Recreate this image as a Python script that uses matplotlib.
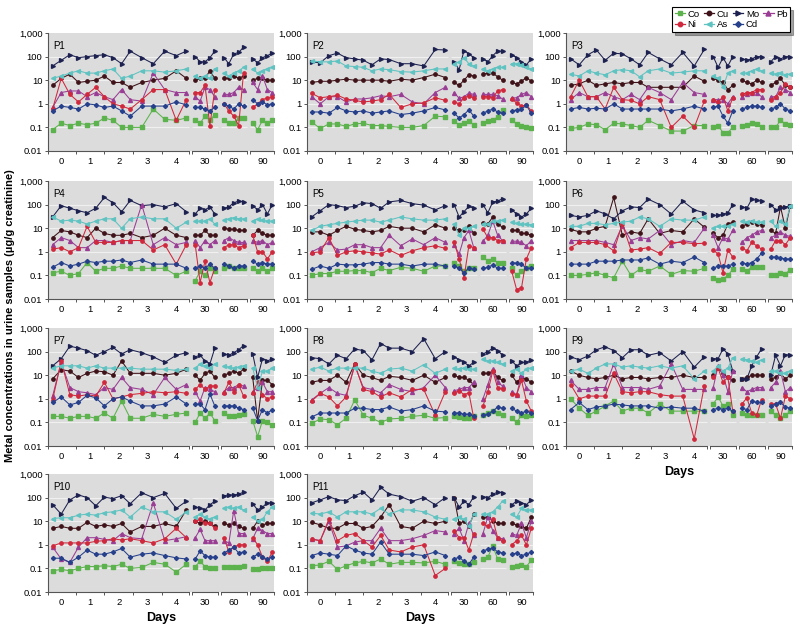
import numpy as np
import matplotlib.pyplot as plt
import matplotlib.transforms as mtransforms

plt.rcParams['font.family'] = ['Liberation Sans Narrow', 'Liberation Sans', 'DejaVu Sans']

#%%
# Sample times: 15 samples over the first days, 5 samples at each follow-up visit

main_days = [-0.3, 0.0, 0.3, 0.6, 0.9, 1.2, 1.5, 1.8, 2.1, 2.4, 2.8, 3.2, 3.6, 4.0, 4.35]
visit_days = [0, 1, 2, 3, 4]
followups = [30, 60, 90]
main_ticks = [0, 1, 2, 3, 4]

metals = ['Co', 'Cu', 'Mo', 'Pb', 'Ni', 'As', 'Cd']

# values: 15 main samples, then 5 each for day 30, 60, 90 (ug/g creatinine)
p1_co = [0.08, 0.15, 0.12, 0.15, 0.13, 0.15, 0.25, 0.2, 0.1, 0.1, 0.1, 0.6, 0.22, 0.2, 0.25, 0.2, 0.15, 0.3, 0.2, 0.35, 0.2, 0.15, 0.15, 0.25, 0.25, 0.15, 0.08, 0.2, 0.15, 0.2]
p1_cu = [6, 12, 18, 8, 9, 10, 15, 8, 8, 5, 8, 10, 12, 25, 12, 10, 12, 12, 25, 12, 12, 12, 15, 12, 15, 10, 12, 12, 10, 10]
p1_mo = [40, 70, 120, 90, 100, 110, 120, 90, 50, 170, 90, 50, 170, 110, 170, 100, 60, 60, 90, 170, 90, 50, 130, 150, 250, 80, 55, 90, 110, 140]
p1_pb = [0.7, 3, 3.5, 3.5, 2, 3, 2, 1.5, 4, 1.5, 1.3, 20, 4, 3, 3, 2, 1.3, 5, 4, 2, 2.5, 2.5, 3, 5, 4, 8, 4, 15, 4, 3]
p1_ni = [0.6, 12, 2.5, 1.2, 2.5, 5, 2, 1, 0.8, 0.6, 1.5, 4, 4, 0.2, 1.5, 3, 3, 6, 0.12, 4, 1, 0.5, 0.3, 0.12, 20, 0.7, 1, 1.5, 1.8, 2]
p1_as = [12, 15, 20, 25, 20, 20, 25, 30, 12, 15, 25, 25, 22, 25, 30, 15, 12, 15, 12, 30, 20, 15, 20, 25, 35, 30, 20, 25, 30, 35]
p1_cd = [0.5, 0.8, 0.7, 0.6, 1, 0.9, 0.7, 0.8, 0.5, 0.3, 0.8, 0.8, 0.8, 1.2, 0.9, 0.7, 0.7, 0.6, 0.5, 0.7, 1, 0.8, 0.6, 1, 0.8, 1.5, 1, 1.2, 0.9, 1]

p2_co = [0.17, 0.09, 0.14, 0.14, 0.11, 0.14, 0.15, 0.12, 0.12, 0.11, 0.1, 0.1, 0.12, 0.3, 0.28, 0.18, 0.13, 0.16, 0.18, 0.13, 0.15, 0.18, 0.2, 0.28, 0.55, 0.2, 0.14, 0.12, 0.1, 0.09]
p2_cu = [8, 9, 9, 10, 11, 10, 10, 10, 10, 9, 11, 10, 13, 18, 13, 8, 6, 10, 17, 15, 18, 20, 20, 14, 10, 8, 7, 9, 13, 9]
p2_mo = [60, 55, 110, 140, 90, 80, 70, 45, 80, 75, 50, 50, 40, 200, 190, 60, 28, 180, 130, 90, 80, 60, 110, 170, 170, 120, 90, 60, 45, 80]
p2_pb = [2, 1, 2, 2, 1.2, 1.6, 1.6, 1.8, 2.2, 2, 2.5, 1.2, 1, 3, 5, 3, 1.7, 2, 2.8, 2.5, 2.5, 2.5, 2.5, 2.2, 1.6, 1.8, 1.8, 2.5, 3, 2]
p2_ni = [2.8, 1.8, 2, 2.3, 1.6, 1.4, 1.2, 1.3, 1.5, 2.5, 0.7, 1, 1.1, 1.8, 1.4, 1.2, 1, 1.8, 2.2, 1.7, 2, 2, 1.8, 3.5, 4, 1.6, 1.1, 0.8, 0.9, 0.5]
p2_as = [65, 60, 60, 65, 40, 38, 35, 25, 30, 28, 23, 22, 25, 30, 30, 50, 60, 90, 50, 40, 30, 25, 30, 35, 35, 50, 50, 45, 35, 30]
p2_cd = [0.45, 0.45, 0.4, 0.7, 0.5, 0.45, 0.5, 0.4, 0.45, 0.5, 0.35, 0.4, 0.5, 0.7, 0.55, 0.4, 0.25, 0.35, 0.55, 0.3, 0.4, 0.5, 0.6, 0.45, 0.4, 0.5, 0.55, 0.6, 0.85, 0.4]

p3_co = [0.09, 0.1, 0.14, 0.13, 0.08, 0.15, 0.14, 0.12, 0.1, 0.2, 0.12, 0.07, 0.07, 0.12, 0.12, 0.1, 0.12, 0.06, 0.06, 0.1, 0.12, 0.13, 0.16, 0.14, 0.1, 0.1, 0.1, 0.2, 0.14, 0.13]
p3_cu = [6, 7, 10, 6, 7, 8, 7, 8, 8, 5, 5, 5, 5, 15, 9, 12, 10, 8, 4, 6, 10, 8, 7, 10, 8, 6, 8, 12, 6, 5]
p3_mo = [80, 45, 120, 190, 70, 140, 130, 80, 45, 150, 80, 45, 150, 40, 200, 100, 35, 90, 40, 100, 80, 70, 80, 100, 100, 60, 100, 80, 100, 100]
p3_pb = [1.5, 3, 2, 2, 3, 2, 1.5, 2.5, 1.5, 5, 3, 1.5, 8, 3, 2.5, 1.5, 1.5, 1.5, 1, 2, 2, 2.5, 3, 3, 2, 2, 2, 5, 4, 3]
p3_ni = [2, 10, 2, 2, 0.6, 5, 1.5, 1.4, 1, 2, 1.5, 0.1, 0.3, 0.1, 1.3, 1.5, 1.2, 2, 0.5, 1.8, 2.5, 3, 3, 4, 4, 1.5, 2, 3, 7, 5]
p3_as = [18, 15, 25, 20, 17, 25, 28, 25, 14, 25, 30, 20, 22, 25, 25, 15, 12, 5, 20, 25, 20, 20, 25, 30, 25, 20, 18, 20, 17, 18]
p3_cd = [0.6, 0.7, 0.6, 0.65, 0.6, 1, 0.6, 0.6, 0.6, 0.6, 0.6, 0.5, 0.6, 0.8, 0.6, 0.7, 0.8, 0.3, 0.15, 0.5, 0.6, 0.7, 0.8, 0.8, 0.7, 0.6, 0.7, 1, 0.6, 0.5]

p4_co = [0.13, 0.15, 0.1, 0.12, 0.35, 0.15, 0.2, 0.2, 0.25, 0.2, 0.2, 0.2, 0.2, 0.1, 0.15, 0.06, 0.15, 0.1, 0.2, 0.15, 0.2, 0.25, 0.2, 0.2, 0.2, 0.2, 0.15, 0.2, 0.15, 0.2]
p4_cu = [4, 8, 7, 5, 4, 10, 6, 5, 5, 6, 4, 5, 10, 5, 4, 5, 5, 8, 5, 5, 10, 9, 9, 8, 8, 5, 8, 6, 5, 5]
p4_mo = [30, 90, 70, 55, 45, 70, 200, 120, 50, 150, 90, 100, 80, 110, 50, 40, 70, 60, 80, 40, 70, 80, 120, 140, 130, 90, 60, 100, 40, 100]
p4_pb = [2, 4, 3, 1.5, 1.5, 3, 3, 2.5, 3, 3, 100, 2, 4, 2, 2.5, 3, 1.5, 3, 2, 3, 3, 4, 3, 2.5, 2.5, 3, 2.5, 3, 2, 2.5]
p4_ni = [1.3, 1.5, 1, 1.5, 12, 2.5, 2.5, 2.5, 3, 3, 3, 1.2, 2, 0.3, 2, 2, 0.05, 0.4, 0.05, 0.2, 1.5, 2, 2, 1.5, 1.8, 5, 1, 1, 0.5, 1]
p4_as = [30, 20, 22, 20, 15, 20, 25, 25, 10, 25, 30, 25, 25, 10, 18, 20, 20, 20, 25, 15, 22, 25, 28, 25, 25, 20, 25, 22, 20, 20]
p4_cd = [0.22, 0.35, 0.25, 0.3, 0.4, 0.35, 0.4, 0.4, 0.45, 0.35, 0.45, 0.3, 0.3, 0.3, 0.2, 0.2, 0.25, 0.2, 0.3, 0.2, 0.3, 0.25, 0.2, 0.25, 0.25, 0.4, 0.3, 0.35, 0.3, 0.3]

p5_co = [0.1, 0.12, 0.12, 0.15, 0.15, 0.16, 0.16, 0.13, 0.2, 0.16, 0.22, 0.2, 0.15, 0.25, 0.25, 0.35, 0.25, 0.15, 0.2, 0.2, 0.6, 0.4, 0.5, 0.35, 0.35, 0.2, 0.1, 0.15, 0.2, 0.25]
p5_cu = [7, 7, 5, 8, 12, 9, 8, 7, 8, 12, 10, 10, 7, 14, 10, 10, 8, 8, 12, 6, 16, 15, 30, 15, 11, 8, 8, 6, 6, 5]
p5_mo = [30, 55, 100, 90, 75, 85, 120, 110, 70, 130, 150, 110, 95, 60, 90, 100, 30, 50, 85, 70, 100, 45, 130, 140, 180, 60, 40, 30, 40, 70]
p5_pb = [1, 1.5, 2.5, 1.2, 1.3, 2, 2, 1.5, 1.5, 5, 1.8, 3.5, 2, 4, 2.5, 2, 0.8, 4, 8, 1.5, 2.8, 5, 20, 5, 3, 2.8, 2.8, 2.5, 1.8, 3]
p5_ni = [0.9, 1, 4, 0.7, 1, 1.1, 1, 0.9, 0.8, 1.2, 0.7, 1.1, 1.5, 1.8, 1.4, 2.5, 0.5, 0.08, 1.8, 1.5, 9, 4, 4, 3, 3, 0.15, 0.025, 0.03, 0.5, 1.5]
p5_as = [8, 12, 14, 16, 18, 20, 22, 22, 18, 22, 30, 25, 22, 22, 25, 15, 5, 10, 10, 12, 15, 15, 20, 20, 22, 18, 16, 15, 15, 14]
p5_cd = [0.18, 0.25, 0.2, 0.3, 0.28, 0.28, 0.3, 0.35, 0.35, 0.3, 0.3, 0.25, 0.3, 0.3, 0.25, 0.25, 0.2, 0.13, 0.2, 0.18, 0.2, 0.22, 0.28, 0.2, 0.2, 0.35, 0.33, 0.3, 0.2, 0.2]

p6_co = [0.1, 0.1, 0.11, 0.13, 0.1, 0.08, 0.4, 0.1, 0.18, 0.15, 0.25, 0.11, 0.16, 0.15, 0.2, 0.08, 0.065, 0.07, 0.1, 0.18, 0.18, 0.16, 0.22, 0.22, 0.23, 0.1, 0.1, 0.13, 0.12, 0.17]
p6_cu = [9, 7, 7, 10, 12, 200, 5, 7, 6, 25, 6, 8, 7, 25, 11, 6, 4, 5, 15, 18, 12, 15, 18, 15, 14, 8, 6, 80, 10, 90]
p6_mo = [35, 30, 35, 55, 40, 25, 55, 80, 75, 170, 100, 40, 140, 60, 45, 35, 35, 40, 45, 100, 80, 70, 170, 150, 140, 100, 60, 70, 80, 90]
p6_pb = [3, 3, 3, 3, 2.5, 2, 13, 3, 4, 3.5, 8, 2, 3, 2.5, 10, 5, 1.5, 4, 3.5, 8, 2.5, 4, 5, 7, 8, 4, 5, 7, 5, 4.5]
p6_ni = [1.5, 2.5, 2.5, 2.5, 2, 1.1, 15, 1.2, 1.3, 1.5, 0.85, 2.5, 2.5, 2.2, 2.3, 1.2, 0.8, 0.13, 1.2, 0.6, 1.5, 1.1, 2.5, 1.8, 1.3, 1.3, 3, 3, 2, 4]
p6_as = [12, 12, 16, 16, 14, 16, 18, 20, 30, 25, 12, 25, 22, 22, 30, 10, 12, 12, 12, 15, 20, 18, 20, 18, 18, 20, 12, 20, 15, 90]
p6_cd = [0.3, 0.3, 0.3, 0.4, 0.4, 0.4, 0.45, 0.45, 0.45, 0.55, 0.3, 0.4, 0.35, 0.6, 0.35, 0.2, 0.25, 0.25, 0.25, 0.3, 0.35, 0.3, 0.35, 0.5, 0.85, 0.6, 0.6, 0.55, 0.5, 0.5]

p7_co = [0.18, 0.18, 0.15, 0.18, 0.18, 0.15, 0.25, 0.15, 0.8, 0.15, 0.15, 0.22, 0.18, 0.22, 0.25, 0.1, 0.25, 0.15, 0.25, 0.12, 0.25, 0.18, 0.18, 0.2, 0.22, 0.12, 0.025, 0.12, 0.1, 0.08]
p7_cu = [7, 17, 15, 8, 12, 15, 14, 10, 40, 12, 12, 12, 10, 12, 18, 10, 6, 12, 15, 8, 10, 12, 15, 12, 18, 8, 0.12, 6, 6, 4]
p7_mo = [25, 50, 170, 140, 110, 70, 100, 150, 80, 120, 90, 60, 35, 70, 90, 60, 70, 40, 30, 140, 80, 70, 90, 120, 180, 80, 8, 50, 40, 50]
p7_pb = [1.3, 35, 3, 2, 1.8, 1.5, 3, 2.5, 8, 3, 2.5, 1.5, 8, 2.5, 4, 2, 0.8, 3, 2.5, 2, 2, 3, 3, 4, 3.5, 2, 3, 5, 2, 2]
p7_ni = [0.9, 40, 1.5, 1.3, 1.5, 1.3, 5, 1, 1.2, 1.5, 1.7, 2, 1.8, 2, 1.7, 2.5, 4, 2.5, 3.5, 3.5, 1.8, 5, 2, 4, 1.3, 1.8, 5, 1.5, 1, 1.2]
p7_as = [20, 25, 25, 25, 20, 25, 20, 20, 20, 20, 18, 18, 18, 16, 18, 20, 30, 25, 20, 30, 25, 22, 20, 22, 25, 20, 3, 15, 15, 20]
p7_cd = [0.7, 1.2, 0.55, 0.7, 1.4, 1.1, 0.5, 1, 1.2, 0.8, 0.5, 0.5, 0.6, 1.2, 0.6, 0.6, 0.6, 0.35, 1.6, 0.5, 0.5, 0.5, 0.5, 0.4, 0.35, 0.4, 0.12, 0.35, 0.25, 0.35]

p8_co = [0.09, 0.14, 0.13, 0.08, 0.15, 0.9, 0.2, 0.15, 0.1, 0.14, 0.15, 0.18, 0.2, 0.15, 0.16, 0.18, 0.17, 0.15, 0.15, 0.18, 0.2, 0.25, 0.3, 0.25, 0.2, 0.15, 0.1, 0.2, 0.18, 0.2]
p8_cu = [5, 6, 6, 10, 5, 30, 10, 8, 6, 9, 8, 6, 10, 5, 8, 10, 8, 8, 6, 4, 12, 12, 15, 8, 6, 10, 5, 8, 7, 5]
p8_mo = [55, 50, 30, 70, 50, 130, 110, 45, 220, 140, 140, 100, 350, 50, 100, 60, 45, 35, 25, 35, 80, 100, 140, 110, 70, 40, 25, 35, 35, 45]
p8_pb = [0.9, 1.7, 3, 1.7, 1.4, 25, 3, 2.5, 1.8, 4, 2.5, 2, 3, 10, 3, 2.2, 2.5, 3, 3, 5, 1, 4, 18, 5, 3.5, 2, 1.5, 10, 3, 2]
p8_ni = [0.8, 1.7, 1.2, 0.5, 1.2, 30, 2.5, 2, 1.2, 1.8, 1.2, 2.5, 2.5, 0.2, 2, 1.8, 2.2, 1.5, 1.8, 0.15, 0.5, 2, 15, 3, 2.5, 1.6, 1.5, 6, 0.8, 0.3]
p8_as = [18, 22, 15, 20, 20, 20, 20, 15, 12, 18, 20, 15, 28, 12, 18, 20, 18, 20, 18, 18, 50, 40, 40, 35, 30, 15, 18, 12, 18, 20]
p8_cd = [0.17, 0.25, 0.25, 0.25, 0.25, 0.4, 0.4, 0.35, 0.35, 0.45, 0.3, 0.35, 0.5, 0.3, 0.28, 0.25, 0.25, 0.22, 0.22, 0.18, 0.2, 0.22, 0.3, 0.45, 0.4, 0.4, 0.3, 0.25, 0.3, 0.25]

p9_co = [1, 0.4, 0.2, 0.3, 0.5, 0.8, 0.3, 0.4, 0.4, 0.25, 0.6, 0.3, 0.3, 0.3, 0.3, 0.6, 1.2, 0.5, 0.6, 0.2, 0.25, 0.2, 0.2, 0.2, 0.2, 0.3, 0.2, 0.15, 0.2, 0.3]
p9_cu = [15, 10, 8, 7, 8, 10, 7, 8, 8, 7, 8, 8, 10, 8, 8, 10, 20, 12, 8, 6, 7, 8, 10, 10, 10, 7, 8, 12, 7, 10]
p9_mo = [60, 45, 65, 120, 160, 110, 55, 120, 120, 70, 90, 40, 100, 22, 60, 50, 50, 130, 80, 15, 7, 7, 25, 60, 130, 10, 70, 25, 75, 70]
p9_pb = [6, 2.5, 2.5, 3, 3, 30, 3, 3, 3, 2.5, 3.5, 30, 2.5, 2.5, 2.5, 3, 25, 10, 2, 15, 3, 2, 2.5, 3, 3, 3, 5, 15, 2, 3]
p9_ni = [4, 1, 1.3, 1.3, 1.3, 12, 2, 1.8, 2, 2, 1.5, 1.3, 1.3, 0.02, 3.5, 8, 20, 5, 8, 0.3, 0.6, 1.1, 0.25, 0.2, 0.9, 0.6, 0.6, 0.15, 1.3, 1]
p9_as = [15, 18, 12, 20, 30, 30, 22, 25, 22, 20, 25, 20, 25, 7, 15, 15, 25, 15, 20, 55, 50, 45, 40, 35, 45, 15, 15, 12, 12, 15]
p9_cd = [0.35, 0.7, 0.35, 0.45, 0.5, 0.6, 0.55, 0.5, 0.5, 0.5, 0.4, 0.45, 0.4, 0.4, 0.3, 0.35, 0.4, 0.35, 0.4, 0.3, 0.4, 0.35, 0.8, 0.7, 0.7, 0.5, 0.6, 0.7, 0.45, 0.4]

p10_co = [0.08, 0.09, 0.08, 0.1, 0.12, 0.12, 0.13, 0.12, 0.15, 0.1, 0.11, 0.18, 0.15, 0.07, 0.15, 0.12, 0.2, 0.12, 0.1, 0.1, 0.11, 0.12, 0.12, 0.11, 0.13, 0.09, 0.09, 0.1, 0.1, 0.1]
p10_cu = [5, 6, 5, 5, 9, 6, 7, 6, 8, 3.5, 6, 6, 8, 6, 30, 10, 8, 10, 8, 6, 8, 7, 8, 6, 5, 5, 10, 7, 8, 8]
p10_mo = [50, 20, 80, 130, 100, 45, 105, 90, 120, 55, 160, 100, 150, 35, 70, 40, 35, 30, 50, 70, 120, 130, 130, 140, 170, 55, 30, 40, 60, 60]
p10_pb = [0.8, 0.25, 0.18, 0.8, 2, 2, 1.7, 1.5, 3, 2, 1.8, 60, 1.5, 1.8, 2.2, 2, 4.5, 1.5, 1.5, 1.5, 1.5, 1.2, 28, 3, 3, 1.8, 5, 4, 3, 3]
p10_ni = [0.9, 1.2, 1.2, 1.2, 1.2, 1.4, 1.5, 1.8, 1.6, 1.8, 1.5, 1.2, 1.8, 5, 2, 10, 12, 8, 8, 5, 2, 0.5, 0.8, 1, 1, 2, 1, 0.3, 0.2, 0.5]
p10_as = [13, 14, 14, 18, 20, 18, 23, 25, 30, 15, 40, 25, 25, 12, 25, 15, 20, 15, 12, 15, 35, 40, 35, 40, 30, 15, 10, 12, 25, 40]
p10_cd = [0.27, 0.27, 0.18, 0.3, 0.6, 0.4, 0.4, 0.5, 0.7, 0.3, 0.4, 0.45, 0.35, 0.28, 0.25, 0.25, 0.55, 0.35, 0.3, 0.3, 0.45, 0.6, 0.8, 0.45, 0.5, 0.3, 0.4, 0.3, 0.25, 0.3]

p11_co = [0.13, 0.14, 0.2, 0.09, 0.13, 0.17, 0.2, 0.17, 0.25, 0.15, 0.18, 0.18, 0.17, 0.2, 0.15, 0.2, 0.17, 0.15, 0.15, 0.18, 0.25, 0.3, 0.9, 0.25, 0.22, 0.12, 0.13, 0.14, 0.12, 0.22]
p11_cu = [9, 7, 5, 5, 8, 8, 5, 6, 15, 50, 6, 5, 10, 8, 10, 100, 8, 10, 6, 20, 15, 15, 10, 8, 8, 8, 7, 6, 5, 15]
p11_mo = [60, 80, 110, 80, 75, 120, 170, 80, 270, 140, 110, 70, 100, 50, 100, 100, 40, 70, 50, 110, 110, 100, 140, 170, 160, 50, 70, 60, 50, 80]
p11_pb = [1.8, 1.5, 10, 0.8, 0.9, 1.3, 1.5, 1.5, 5, 1.5, 1.5, 1.8, 2.5, 4, 3.5, 3, 5, 1.5, 8, 2.5, 3, 15, 4, 2, 1.8, 3, 2.5, 8, 2, 10]
p11_ni = [1.7, 1.5, 12, 1.5, 2.5, 3, 1.5, 0.8, 2.5, 0.6, 0.5, 0.8, 1, 0.05, 0.1, 4, 2, 2, 0.6, 3, 8, 6, 12, 2, 1.5, 1, 1.5, 2.5, 1, 5]
p11_as = [22, 20, 25, 15, 25, 25, 25, 20, 35, 20, 30, 30, 25, 15, 12, 12, 15, 12, 6, 20, 20, 20, 25, 40, 70, 20, 15, 35, 30, 30]
p11_cd = [0.35, 0.45, 0.4, 0.35, 0.9, 0.6, 0.45, 0.4, 1.3, 0.4, 0.4, 0.4, 0.35, 0.5, 0.35, 0.25, 0.3, 0.2, 0.15, 0.3, 0.55, 0.65, 0.75, 0.5, 0.45, 0.4, 0.45, 0.35, 0.4, 0.5]

panels = [
    ("P1", [p1_co, p1_cu, p1_mo, p1_pb, p1_ni, p1_as, p1_cd]),
    ("P2", [p2_co, p2_cu, p2_mo, p2_pb, p2_ni, p2_as, p2_cd]),
    ("P3", [p3_co, p3_cu, p3_mo, p3_pb, p3_ni, p3_as, p3_cd]),
    ("P4", [p4_co, p4_cu, p4_mo, p4_pb, p4_ni, p4_as, p4_cd]),
    ("P5", [p5_co, p5_cu, p5_mo, p5_pb, p5_ni, p5_as, p5_cd]),
    ("P6", [p6_co, p6_cu, p6_mo, p6_pb, p6_ni, p6_as, p6_cd]),
    ("P7", [p7_co, p7_cu, p7_mo, p7_pb, p7_ni, p7_as, p7_cd]),
    ("P8", [p8_co, p8_cu, p8_mo, p8_pb, p8_ni, p8_as, p8_cd]),
    ("P9", [p9_co, p9_cu, p9_mo, p9_pb, p9_ni, p9_as, p9_cd]),
    ("P10", [p10_co, p10_cu, p10_mo, p10_pb, p10_ni, p10_as, p10_cd]),
    ("P11", [p11_co, p11_cu, p11_mo, p11_pb, p11_ni, p11_as, p11_cd]),
]

#%%
# Styles

colors = {'Co': '#5cb24c', 'Cu': '#3e1218', 'Mo': '#1d2150', 'Pb': '#9a3d94',
          'Ni': '#d0283c', 'As': '#5ec3c1', 'Cd': '#26408c'}
markers = {'Co': 's', 'Cu': 'o', 'Mo': '>', 'Pb': '^', 'Ni': 'o', 'As': '<', 'Cd': 'D'}
msizes = {'Co': 2.2, 'Cu': 2.4, 'Mo': 2.8, 'Pb': 2.8, 'Ni': 2.4, 'As': 2.8, 'Cd': 2.1}

# broken x axis: main days on [-0.46, 4.45], follow-up visits centred at 5, 6, 7
segments = [(-0.46, 4.45), (4.55, 5.45), (5.55, 6.45), (6.55, 7.4)]
visit_centres = [5, 6, 7]
visit_scale = 0.17

def visit_x(centre, days):
    return [centre + (d - 2) * visit_scale for d in days]

col_left = [48, 307, 566]
row_top = [33, 181, 328, 474]
ax_w, ax_h = 226, 118
W, H = 800, 631

fig = plt.figure(figsize=(8.0, 6.31), dpi=100)

for i, (name, series) in enumerate(panels):
    row, col = divmod(i, 3)
    ax = fig.add_axes([col_left[col] / W, 1 - (row_top[row] + ax_h) / H, ax_w / W, ax_h / H])
    ax.set_facecolor('#dcdcdc')
    ax.set_yscale('log')
    ax.set_ylim(0.01, 1000)
    ax.set_xlim(segments[0][0], segments[-1][1])

    # grid lines broken at the segment gaps
    for x0, x1 in segments:
        ax.hlines([0.1, 1, 10, 100], x0, x1, colors='#f0f0f0', lw=0.8, zorder=1)

    n = len(main_days)
    for metal, vals in zip(metals, series):
        kw = dict(color=colors[metal], marker=markers[metal], ms=msizes[metal], lw=0.75,
                  mec=colors[metal], zorder=3)
        ax.plot(main_days, vals[:n], **kw)
        for k, c in enumerate(visit_centres):
            seg = vals[n + k * len(visit_days): n + (k + 1) * len(visit_days)]
            ax.plot(visit_x(c, visit_days), seg, **kw)

    # spines and ticks
    for s in ['top', 'right', 'bottom']:
        ax.spines[s].set_visible(False)
    ax.spines['left'].set_color('#555555')
    ax.spines['left'].set_linewidth(0.8)
    trans = mtransforms.blended_transform_factory(ax.transData, ax.transAxes)
    for x0, x1 in segments:
        ax.plot([x0, x1], [0, 0], color='#555555', lw=0.8, transform=trans, clip_on=False)

    ax.set_yticks([0.01, 0.1, 1, 10, 100, 1000])
    ax.set_yticklabels(['0.01', '0.1', '1', '10', '100', '1,000'])
    ax.yaxis.set_minor_locator(plt.NullLocator())
    ax.tick_params(axis='y', labelsize=6.8, length=2.5, width=0.7, color='#555555', pad=1.5)

    ax.set_xticks(main_ticks + visit_centres)
    ax.set_xticklabels([str(d) for d in main_ticks] + [str(f) for f in followups])
    boundaries = [b for seg in segments for b in seg] + [0.5, 1.5, 2.5, 3.5]
    ax.set_xticks(boundaries, minor=True)
    ax.tick_params(axis='x', which='major', length=0, labelsize=6.8, pad=4)
    ax.tick_params(axis='x', which='minor', length=2.5, width=0.7, color='#555555')

    ax.text(0.025, 0.93, name, transform=ax.transAxes, fontsize=7, va='top', ha='left')

    if name in ("P9", "P10", "P11"):
        ax.set_xlabel('Days', fontsize=9, fontweight='bold', labelpad=4)

fig.text(0.012, 0.5, 'Metal concentrations in urine samples (µg/g creatinine)',
         rotation=90, va='center', ha='center', fontsize=8, fontweight='bold')

# legend: column-major fill, so order gives rows Co Cu Mo Pb / Ni As Cd
order = ['Co', 'Ni', 'Cu', 'As', 'Mo', 'Cd', 'Pb']
handles = [plt.Line2D([], [], color=colors[m], marker=markers[m], ms=msizes[m] + 0.8, lw=0.9) for m in order]
leg = fig.legend(handles, order, loc='upper right', bbox_to_anchor=(795 / W, 1 - 2 / H), ncol=4,
                 fontsize=6.8, frameon=True, fancybox=False, shadow=True, handlelength=1.1,
                 handletextpad=0.25, columnspacing=0.45, borderpad=0.3, labelspacing=0.15)
leg.get_frame().set_edgecolor('black')
leg.get_frame().set_linewidth(0.8)

fig.savefig('out.png', dpi=100)
